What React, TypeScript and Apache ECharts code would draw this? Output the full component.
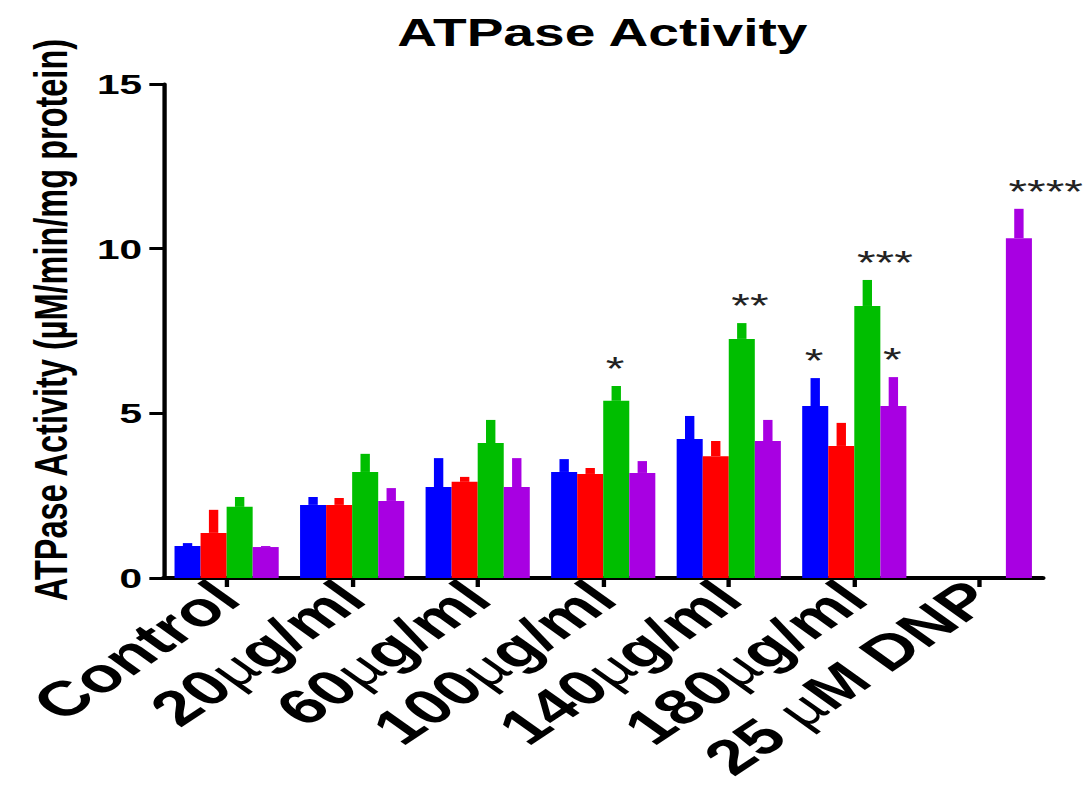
import React, { useEffect, useRef } from "react";
import * as echarts from "echarts";

const categories = ["Control", "20µg/ml", "60µg/ml", "100µg/ml", "140µg/ml", "180µg/ml", "25 µM DNP"];
const seriesNames = ["Blue group", "Red group", "Green group", "Purple group"];
const colors = ["#0000FF", "#FF0000", "#00BE00", "#A800E2"];

const blueMean = [0.97, 2.22, 2.76, 3.22, 4.22, 5.22, null];
const blueErr = [0.09, 0.24, 0.88, 0.39, 0.7, 0.85, null];
const redMean = [1.37, 2.22, 2.92, 3.16, 3.7, 4.01, null];
const redErr = [0.7, 0.21, 0.15, 0.18, 0.46, 0.7, null];
const greenMean = [2.16, 3.22, 4.1, 5.38, 7.26, 8.26, null];
const greenErr = [0.3, 0.55, 0.7, 0.45, 0.48, 0.79, null];
const purpleMean = [0.94, 2.34, 2.76, 3.19, 4.16, 5.22, 10.32];
const purpleErr = [0.03, 0.39, 0.88, 0.36, 0.64, 0.88, 0.89];

const means = [blueMean, redMean, greenMean, purpleMean];
const errs = [blueErr, redErr, greenErr, purpleErr];

// [category index, series index, marker]
const significance: [number, number, string][] = [
  [3, 2, "*"],
  [4, 2, "**"],
  [5, 0, "*"],
  [5, 2, "***"],
  [5, 3, "*"],
  [6, 3, "****"],
];

const yTicks = [0, 5, 10, 15];

const FONT = "'Liberation Sans', Arial, Helvetica, sans-serif";
const STRETCH = 1.45;
const BASE_W = 1086 / STRETCH;
const H = 805;
const CAT_GAP = 0.17;

export default function App() {
  const ref = useRef<HTMLDivElement>(null);

  useEffect(() => {
    if (!ref.current) return;
    const chart = echarts.init(ref.current, null, { renderer: "svg" });

    const barSeries = means.map((m, i) => ({
      name: seriesNames[i],
      type: "bar",
      data: m,
      barGap: "0%",
      barCategoryGap: CAT_GAP * 100 + "%",
      itemStyle: { color: colors[i] },
      z: 2,
    }));

    const errSeries = means.map((m, i) => ({
      type: "custom",
      name: seriesNames[i] + " SEM",
      z: 3,
      data: m
        .map((v, c) => (v == null ? null : [c, v, v + (errs[i][c] as number)]))
        .filter((d) => d != null),
      renderItem: (params: any, api: any) => {
        const c = api.value(0);
        const lo = api.coord([c, api.value(1)]);
        const hi = api.coord([c, api.value(2)]);
        const catW = api.size([1, 0])[0];
        const barW = (catW * (1 - CAT_GAP)) / 4;
        const cx = lo[0] + (i - 1.5) * barW;
        const w = barW * 0.36;
        return {
          type: "rect",
          shape: { x: cx - w / 2, y: hi[1], width: w, height: lo[1] - hi[1] },
          style: { fill: colors[i] },
        };
      },
    }));

    const starSeries = {
      type: "custom",
      name: "significance",
      z: 4,
      data: significance.map(([c, s, t]) => [c, (means[s][c] as number) + (errs[s][c] as number), s, t]),
      renderItem: (params: any, api: any) => {
        const c = api.value(0);
        const s = api.value(2);
        const idx = params.dataIndex;
        const p = api.coord([c, api.value(1)]);
        const catW = api.size([1, 0])[0];
        const barW = (catW * (1 - CAT_GAP)) / 4;
        const left = p[0] + (s - 2) * barW + barW * 0.1;
        return {
          type: "text",
          x: left,
          y: p[1] - 17,
          style: {
            text: significance[idx][2],
            fill: "#222",
            font: `33px ${FONT}`,
            align: "left",
            verticalAlign: "middle",
          },
        };
      },
    };

    chart.setOption({
      animation: false,
      backgroundColor: "#fff",
      title: {
        text: "ATPase Activity",
        left: 269,
        top: 9,
        textStyle: { fontFamily: FONT, fontWeight: "bold", fontSize: 38, color: "#000", lineHeight: 38 },
      },
      grid: { left: 113, right: BASE_W - 719, top: 84, bottom: H - 578, containLabel: false, outerBoundsMode: "none" },
      xAxis: {
        type: "category",
        data: categories,
        axisLine: { show: true, lineStyle: { color: "#000", width: 4 } },
        axisTick: { show: true, alignWithLabel: true, length: 9, lineStyle: { color: "#000", width: 3 } },
        axisLabel: {
          interval: 0,
          rotate: 44,
          margin: 12,
          color: "#000",
          fontFamily: FONT,
          fontWeight: "bold",
          fontSize: 49,
          formatter: (v: string) => v.replace("µ", "{u|µ}"),
          rich: {
            u: { fontFamily: FONT, fontWeight: "normal", fontSize: 46, color: "#000" },
          },
        },
        splitLine: { show: false },
      },
      yAxis: {
        type: "value",
        min: yTicks[0],
        max: yTicks[yTicks.length - 1],
        interval: 5,
        axisLine: { show: true, lineStyle: { color: "#000", width: 3 } },
        axisTick: { show: true, length: 10, lineStyle: { color: "#000", width: 3 } },
        axisLabel: { color: "#000", fontFamily: FONT, fontWeight: "bold", fontSize: 28, margin: 15 },
        splitLine: { show: false },
      },
      graphic: [
        {
          type: "text",
          x: 35,
          y: 320,
          rotation: Math.PI / 2,
          style: {
            text: "ATPase Activity (µM/min/mg protein)",
            fill: "#000",
            font: `bold 32.5px ${FONT}`,
            align: "center",
            verticalAlign: "middle",
          },
        },
      ],
      series: [...barSeries, ...errSeries, starSeries],
    });

    return () => chart.dispose();
  }, []);

  return (
    <div
      style={{
        position: "fixed",
        left: 0,
        top: 0,
        width: 1086,
        height: H,
        overflow: "hidden",
        background: "#fff",
      }}
    >
      <div
        ref={ref}
        style={{
          width: BASE_W,
          height: H,
          transform: `scaleX(${STRETCH})`,
          transformOrigin: "0 0",
        }}
      />
    </div>
  );
}
